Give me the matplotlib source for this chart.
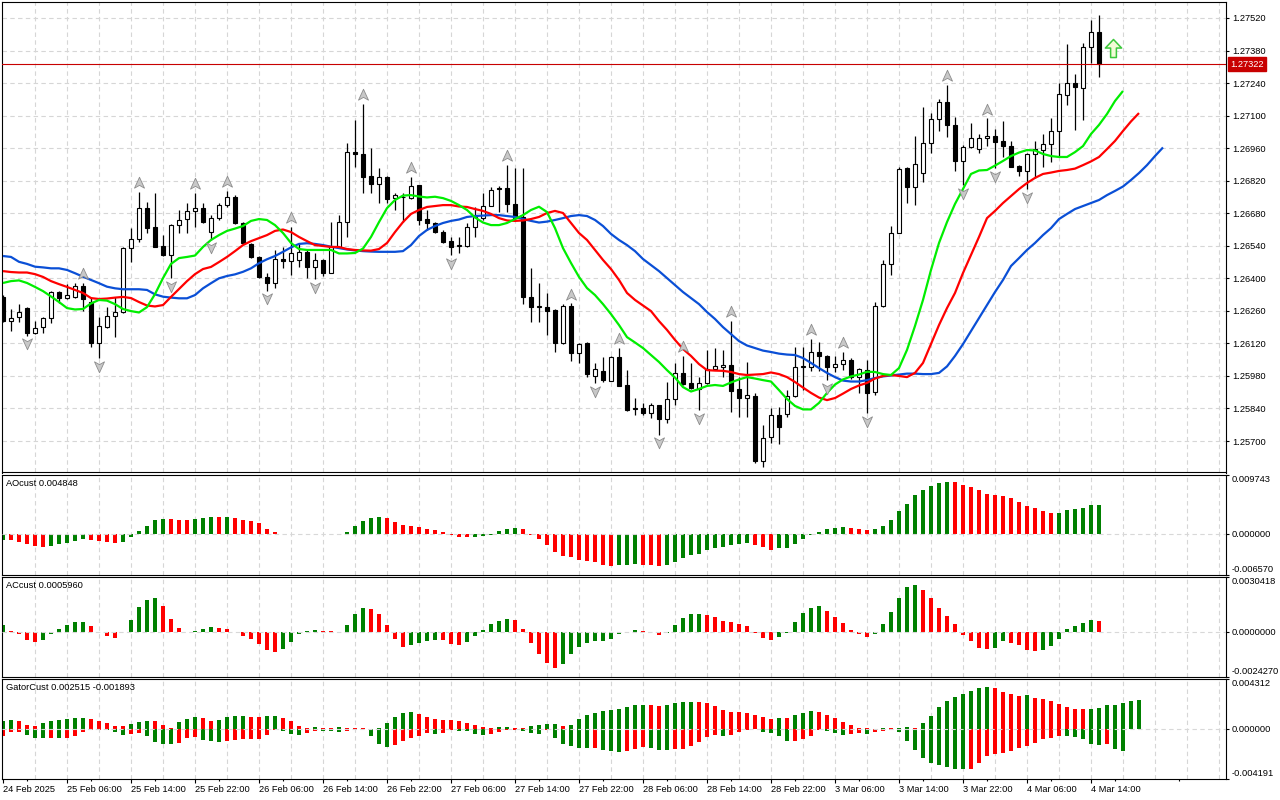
import numpy as np
import matplotlib
matplotlib.use("Agg")
import matplotlib.pyplot as plt
from matplotlib.path import Path
import matplotlib.transforms as mtransforms

plt.rcParams['font.family'] = ['Liberation Sans', 'DejaVu Sans']
FS = 6.7

# ---------------- price data (H1 candles) ----------------
opens = [1.26321, 1.26218, 1.26232, 1.26271, 1.26166, 1.26189, 1.26228, 1.26340, 1.26317, 1.26321,
         1.26367, 1.26299, 1.26123, 1.26192, 1.26238, 1.26254, 1.26529, 1.26568, 1.26701, 1.26619,
         1.26539, 1.26499, 1.26629, 1.26654, 1.26690, 1.26701, 1.26598, 1.26658, 1.26715, 1.26751,
         1.26639, 1.26548, 1.26493, 1.26404, 1.26378, 1.26482, 1.26476, 1.26479, 1.26514, 1.26447,
         1.26479, 1.26424, 1.26536, 1.26643, 1.26945, 1.26935, 1.26840, 1.26804, 1.26837, 1.26744,
         1.26751, 1.26744, 1.26800, 1.26654, 1.26637, 1.26600, 1.26560, 1.26539, 1.26540, 1.26622,
         1.26658, 1.26712, 1.26790, 1.26787, 1.26720, 1.26665, 1.26318, 1.26275, 1.26278, 1.26264,
         1.26120, 1.26281, 1.26077, 1.26120, 1.25980, 1.26002, 1.25959, 1.26060, 1.25941, 1.25836,
         1.25841, 1.25822, 1.25855, 1.25793, 1.25879, 1.25994, 1.25948, 1.25922, 1.25948, 1.26008,
         1.26020, 1.26027, 1.25922, 1.25884, 1.25894, 1.25614, 1.25716, 1.25812, 1.25816, 1.25894,
         1.26017, 1.26020, 1.26082, 1.26066, 1.26020, 1.26031, 1.26049, 1.25977, 1.26005, 1.25910,
         1.26282, 1.26462, 1.26596, 1.26873, 1.26792, 1.26854, 1.26981, 1.27084, 1.27157, 1.27058,
         1.26905, 1.26966, 1.26955, 1.27005, 1.27012, 1.26991, 1.26969, 1.26883, 1.26863, 1.26934,
         1.26952, 1.26977, 1.27034, 1.27189, 1.27239, 1.27217, 1.27396, 1.27458]
highs = [1.26328, 1.26267, 1.26288, 1.26278, 1.26218, 1.26235, 1.26347, 1.26347, 1.26375, 1.26378,
         1.26381, 1.26321, 1.26235, 1.26278, 1.26321, 1.26536, 1.26615, 1.26773, 1.26730, 1.26766,
         1.26586, 1.26632, 1.26694, 1.26723, 1.26768, 1.26723, 1.26672, 1.26723, 1.26775, 1.26758,
         1.26643, 1.26551, 1.26496, 1.26421, 1.26522, 1.26536, 1.26620, 1.26551, 1.26522, 1.26510,
         1.26482, 1.26643, 1.26672, 1.26981, 1.27081, 1.27150, 1.26959, 1.26873, 1.26840, 1.26766,
         1.26766, 1.26835, 1.26803, 1.26694, 1.26643, 1.26608, 1.26579, 1.26579, 1.26637, 1.26708,
         1.26766, 1.26792, 1.26796, 1.26887, 1.26873, 1.26873, 1.26443, 1.26378, 1.26335, 1.26266,
         1.26289, 1.26292, 1.26120, 1.26127, 1.26034, 1.26060, 1.26066, 1.26099, 1.26005, 1.25884,
         1.25865, 1.25862, 1.25857, 1.25955, 1.26034, 1.26066, 1.26037, 1.25977, 1.26092, 1.26099,
         1.26092, 1.26218, 1.25977, 1.26041, 1.25905, 1.25769, 1.25841, 1.25848, 1.25919, 1.26106,
         1.26106, 1.26138, 1.26127, 1.26070, 1.26066, 1.26083, 1.26056, 1.26013, 1.26049, 1.26298,
         1.26479, 1.26625, 1.26880, 1.26880, 1.27012, 1.27138, 1.27110, 1.27171, 1.27232, 1.27095,
         1.26972, 1.27067, 1.27021, 1.27088, 1.27041, 1.27078, 1.26991, 1.26886, 1.26940, 1.26992,
         1.27021, 1.27088, 1.27239, 1.27407, 1.27279, 1.27411, 1.27511, 1.27533]
lows = [1.26212, 1.26175, 1.26213, 1.26152, 1.26159, 1.26163, 1.26206, 1.26295, 1.26310, 1.26314,
        1.26261, 1.26106, 1.26056, 1.26185, 1.26149, 1.26249, 1.26471, 1.26557, 1.26594, 1.26533,
        1.26496, 1.26400, 1.26594, 1.26594, 1.26622, 1.26640, 1.26565, 1.26651, 1.26705, 1.26634,
        1.26548, 1.26486, 1.26401, 1.26347, 1.26358, 1.26443, 1.26414, 1.26447, 1.26403, 1.26396,
        1.26410, 1.26421, 1.26529, 1.26579, 1.26880, 1.26768, 1.26768, 1.26723, 1.26723, 1.26694,
        1.26643, 1.26740, 1.26629, 1.26608, 1.26594, 1.26553, 1.26500, 1.26508, 1.26536, 1.26579,
        1.26651, 1.26711, 1.26684, 1.26687, 1.26651, 1.26289, 1.26213, 1.26213, 1.26156, 1.26084,
        1.26118, 1.26045, 1.26037, 1.25977, 1.25948, 1.25955, 1.25957, 1.25935, 1.25831, 1.25812,
        1.25812, 1.25798, 1.25726, 1.25776, 1.25855, 1.25943, 1.25922, 1.25833, 1.25945, 1.26005,
        1.25977, 1.25826, 1.25805, 1.25805, 1.25604, 1.25587, 1.25690, 1.25687, 1.25802, 1.25888,
        1.25919, 1.26002, 1.26002, 1.25962, 1.25998, 1.26005, 1.25966, 1.25905, 1.25819, 1.25898,
        1.26278, 1.26414, 1.26594, 1.26725, 1.26715, 1.26816, 1.26940, 1.27035, 1.27007, 1.26863,
        1.26801, 1.26962, 1.26940, 1.26969, 1.26873, 1.26923, 1.26878, 1.26840, 1.26783, 1.26830,
        1.26878, 1.26902, 1.26923, 1.27146, 1.27038, 1.27081, 1.27325, 1.27267]
closes = [1.26218, 1.26228, 1.26254, 1.26166, 1.26185, 1.26228, 1.26340, 1.26317, 1.26328, 1.26367,
          1.26311, 1.26123, 1.26195, 1.26238, 1.26254, 1.26529, 1.26568, 1.26701, 1.26618, 1.26536,
          1.26499, 1.26629, 1.26651, 1.26690, 1.26701, 1.26643, 1.26658, 1.26715, 1.26751, 1.26639,
          1.26551, 1.26490, 1.26404, 1.26378, 1.26482, 1.26476, 1.26510, 1.26514, 1.26447, 1.26479,
          1.26424, 1.26536, 1.26643, 1.26945, 1.26935, 1.26837, 1.26804, 1.26835, 1.26740, 1.26758,
          1.26748, 1.26797, 1.26651, 1.26637, 1.26600, 1.26557, 1.26536, 1.26543, 1.26622, 1.26665,
          1.26712, 1.26780, 1.26783, 1.26720, 1.26658, 1.26318, 1.26278, 1.26281, 1.26261, 1.26120,
          1.26281, 1.26077, 1.26116, 1.25987, 1.26008, 1.25962, 1.26060, 1.25937, 1.25833, 1.25841,
          1.25819, 1.25855, 1.25793, 1.25879, 1.25994, 1.25945, 1.25927, 1.25948, 1.26008, 1.26023,
          1.26027, 1.25916, 1.25884, 1.25898, 1.25615, 1.25712, 1.25812, 1.25759, 1.25894, 1.26020,
          1.26023, 1.26082, 1.26067, 1.26020, 1.26031, 1.26049, 1.25977, 1.26008, 1.25905, 1.26281,
          1.26462, 1.26596, 1.26869, 1.26792, 1.26890, 1.26981, 1.27084, 1.27157, 1.27058, 1.26905,
          1.26966, 1.27005, 1.27005, 1.27012, 1.26988, 1.26969, 1.26880, 1.26863, 1.26934, 1.26955,
          1.26977, 1.27034, 1.27192, 1.27239, 1.27222, 1.27396, 1.27458, 1.27322]

# ---------------- Alligator (shifted lines, indexed by bar) ----------------
jaw = [1.26496, 1.26492, 1.26471, 1.26462, 1.26450, 1.26447, 1.26443, 1.26443, 1.26436, 1.26422,
       1.26407, 1.26393, 1.26379, 1.26364, 1.26357, 1.26353, 1.26353, 1.26353, 1.26350, 1.26331,
       1.26321, 1.26317, 1.26314, 1.26314, 1.26328, 1.26357, 1.26379, 1.26400, 1.26410, 1.26417,
       1.26428, 1.26443, 1.26465, 1.26482, 1.26496, 1.26514, 1.26533, 1.26548, 1.26551, 1.26548,
       1.26543, 1.26536, 1.26530, 1.26524, 1.26520, 1.26517, 1.26515, 1.26514, 1.26514, 1.26514,
       1.26517, 1.26543, 1.26582, 1.26608, 1.26625, 1.26638, 1.26647, 1.26653, 1.26664, 1.26668,
       1.26670, 1.26672, 1.26672, 1.26668, 1.26664, 1.26655, 1.26647, 1.26640, 1.26644, 1.26651,
       1.26659, 1.26668, 1.26672, 1.26668, 1.26651, 1.26625, 1.26591, 1.26565, 1.26543, 1.26517,
       1.26483, 1.26457, 1.26431, 1.26401, 1.26371, 1.26341, 1.26315, 1.26289, 1.26255, 1.26225,
       1.26190, 1.26160, 1.26130, 1.26111, 1.26100, 1.26089, 1.26083, 1.26076, 1.26072, 1.26070,
       1.26057, 1.26036, 1.26014, 1.25993, 1.25975, 1.25960, 1.25956, 1.25956, 1.25962, 1.25971,
       1.25978, 1.25982, 1.25986, 1.25990, 1.25990, 1.25988, 1.25988, 1.25993, 1.26021, 1.26066,
       1.26117, 1.26173, 1.26229, 1.26285, 1.26341, 1.26393, 1.26453, 1.26487, 1.26522, 1.26552,
       1.26586, 1.26616, 1.26655, 1.26677, 1.26698, 1.26711, 1.26724, 1.26737, 1.26758, 1.26776,
       1.26795, 1.26823, 1.26853, 1.26887, 1.26926, 1.26963]
teeth = [1.26431, 1.26427, 1.26425, 1.26425, 1.26418, 1.26406, 1.26388, 1.26375, 1.26363, 1.26350,
         1.26337, 1.26315, 1.26311, 1.26313, 1.26317, 1.26320, 1.26315, 1.26298, 1.26283, 1.26279,
         1.26285, 1.26320, 1.26354, 1.26388, 1.26418, 1.26440, 1.26449, 1.26470, 1.26492, 1.26517,
         1.26543, 1.26560, 1.26573, 1.26586, 1.26604, 1.26610, 1.26599, 1.26578, 1.26560, 1.26543,
         1.26539, 1.26535, 1.26535, 1.26526, 1.26522, 1.26520, 1.26519, 1.26526, 1.26552, 1.26599,
         1.26642, 1.26677, 1.26694, 1.26707, 1.26711, 1.26715, 1.26715, 1.26709, 1.26707, 1.26698,
         1.26690, 1.26677, 1.26659, 1.26649, 1.26647, 1.26649, 1.26655, 1.26664, 1.26681, 1.26690,
         1.26681, 1.26638, 1.26595, 1.26565, 1.26522, 1.26479, 1.26440, 1.26393, 1.26337, 1.26307,
         1.26283, 1.26259, 1.26216, 1.26178, 1.26135, 1.26096, 1.26066, 1.26031, 1.26005, 1.26003,
         1.26002, 1.25997, 1.25988, 1.25984, 1.25986, 1.25988, 1.25995, 1.25988, 1.25975, 1.25954,
         1.25930, 1.25907, 1.25887, 1.25876, 1.25885, 1.25904, 1.25924, 1.25939, 1.25950, 1.25969,
         1.25980, 1.25984, 1.25980, 1.25975, 1.25993, 1.26036, 1.26117, 1.26199, 1.26272, 1.26337,
         1.26423, 1.26500, 1.26578, 1.26659, 1.26690, 1.26724, 1.26754, 1.26784, 1.26810, 1.26832,
         1.26849, 1.26855, 1.26862, 1.26866, 1.26872, 1.26887, 1.26903, 1.26922, 1.26956, 1.26991,
         1.27034, 1.27075, 1.27111]
lips = [1.26380, 1.26388, 1.26391, 1.26380, 1.26363, 1.26345, 1.26322, 1.26298, 1.26272, 1.26266,
        1.26268, 1.26292, 1.26307, 1.26304, 1.26289, 1.26268, 1.26259, 1.26253, 1.26276, 1.26332,
        1.26401, 1.26462, 1.26487, 1.26492, 1.26498, 1.26535, 1.26565, 1.26586, 1.26604, 1.26614,
        1.26625, 1.26647, 1.26655, 1.26651, 1.26629, 1.26595, 1.26552, 1.26526, 1.26522, 1.26522,
        1.26522, 1.26522, 1.26507, 1.26507, 1.26509, 1.26528, 1.26578, 1.26642, 1.26702, 1.26737,
        1.26756, 1.26758, 1.26752, 1.26748, 1.26751, 1.26745, 1.26733, 1.26715, 1.26694, 1.26662,
        1.26640, 1.26629, 1.26629, 1.26638, 1.26655, 1.26672, 1.26694, 1.26708, 1.26685, 1.26616,
        1.26530, 1.26466, 1.26406, 1.26358, 1.26328, 1.26289, 1.26246, 1.26199, 1.26147, 1.26124,
        1.26100, 1.26070, 1.26040, 1.26005, 1.25973, 1.25932, 1.25913, 1.25924, 1.25937, 1.25941,
        1.25937, 1.25952, 1.25965, 1.25975, 1.25969, 1.25962, 1.25956, 1.25919, 1.25881, 1.25851,
        1.25836, 1.25836, 1.25864, 1.25907, 1.25943, 1.25965, 1.25978, 1.25986, 1.25998, 1.25997,
        1.25988, 1.25984, 1.26014, 1.26092, 1.26195, 1.26307, 1.26436, 1.26552, 1.26642, 1.26720,
        1.26784, 1.26849, 1.26864, 1.26866, 1.26885, 1.26905, 1.26926, 1.26941, 1.26952, 1.26950,
        1.26935, 1.26926, 1.26922, 1.26922, 1.26943, 1.26969, 1.27021, 1.27060, 1.27107, 1.27163,
        1.27206]

# ---------------- fractals (bar indices) ----------------
fractal_up = [10, 17, 24, 28, 36, 45, 51, 63, 71, 77, 85, 91, 101, 105, 118, 123]
fractal_down = [3, 12, 21, 26, 33, 39, 56, 74, 82, 87, 103, 108, 120, 124, 128]

last_price = 1.27322
signal_bar = 138.75
signal_price = 1.27392

# ---------------- oscillators ----------------
ao = [-0.00094, -0.00100, -0.00128, -0.00166, -0.00194, -0.00216, -0.00194, -0.00166, -0.00139, -0.00111,
      -0.00083, -0.00100, -0.00117, -0.00128, -0.00150, -0.00128, -0.00044, 0.00055, 0.00139, 0.00239,
      0.00250, 0.00244, 0.00239, 0.00233, 0.00250, 0.00272, 0.00283, 0.00277, 0.00285, 0.00261,
      0.00233, 0.00222, 0.00178, 0.00083, 0.00039, 0.00006, 0.00003, 0.00006, 0.00011, 0.00009,
      0.00002, 0.00001, 0.00011, 0.00044, 0.00133, 0.00216, 0.00266, 0.00283, 0.00266, 0.00200,
      0.00150, 0.00133, 0.00117, 0.00083, 0.00067, 0.00033, -0.00011, -0.00044, -0.00047, -0.00039,
      -0.00028, -0.00006, 0.00050, 0.00083, 0.00100, 0.00083, -0.00011, -0.00078, -0.00178, -0.00294,
      -0.00361, -0.00377, -0.00416, -0.00444, -0.00461, -0.00494, -0.00516, -0.00499, -0.00494, -0.00488,
      -0.00494, -0.00499, -0.00511, -0.00494, -0.00461, -0.00394, -0.00344, -0.00316, -0.00261, -0.00228,
      -0.00205, -0.00178, -0.00166, -0.00144, -0.00178, -0.00211, -0.00250, -0.00228, -0.00222, -0.00166,
      -0.00078, -0.00017, 0.00044, 0.00083, 0.00100, 0.00122, 0.00100, 0.00083, 0.00072, 0.00083,
      0.00139, 0.00233, 0.00372, 0.00499, 0.00633, 0.00721, 0.00788, 0.00832, 0.00849, 0.00847,
      0.00799, 0.00766, 0.00716, 0.00660, 0.00633, 0.00621, 0.00588, 0.00533, 0.00466, 0.00422,
      0.00377, 0.00350, 0.00352, 0.00388, 0.00405, 0.00427, 0.00470, 0.004848]
ac = [0.00037, 0.00004, -0.00009, -0.00041, -0.00052, -0.00041, -0.00009, 0.00019, 0.00041, 0.00056,
      0.00058, 0.00032, 0.00001, -0.00019, -0.00032, -0.00002, 0.00069, 0.00136, 0.00173, 0.00186,
      0.00143, 0.00074, 0.00024, 0.00002, 0.00004, 0.00019, 0.00030, 0.00024, 0.00019, 0.00002,
      -0.00022, -0.00037, -0.00065, -0.00099, -0.00108, -0.00093, -0.00052, -0.00013, 0.00006, 0.00011,
      0.00008, 0.00004, 0.00002, 0.00039, 0.00100, 0.00134, 0.00128, 0.00100, 0.00039, -0.00039,
      -0.00082, -0.00073, -0.00061, -0.00048, -0.00043, -0.00045, -0.00067, -0.00068, -0.00052, -0.00022,
      0.00011, 0.00045, 0.00061, 0.00073, 0.00067, 0.00017, -0.00061, -0.00117, -0.00167, -0.00195,
      -0.00173, -0.00117, -0.00084, -0.00061, -0.00050, -0.00048, -0.00039, -0.00011, -0.00006, 0.00011,
      0.00006, 0.00001, -0.00017, -0.00006, 0.00039, 0.00078, 0.00100, 0.00101, 0.00095, 0.00084,
      0.00061, 0.00054, 0.00042, 0.00033, -0.00004, -0.00032, -0.00045, -0.00028, -0.00004, 0.00054,
      0.00104, 0.00132, 0.00143, 0.00117, 0.00082, 0.00048, 0.00009, -0.00013, -0.00028, -0.00009,
      0.00043, 0.00110, 0.00188, 0.00246, 0.00260, 0.00233, 0.00188, 0.00132, 0.00087, 0.00043,
      -0.00017, -0.00050, -0.00086, -0.00095, -0.00086, -0.00050, -0.00061, -0.00073, -0.00100, -0.00102,
      -0.00099, -0.00078, -0.00039, 0.00017, 0.00033, 0.00048, 0.00067, 0.000596]
gator_upper = [0.00072, 0.00080, 0.00069, 0.00040, 0.00031, 0.00052, 0.00072, 0.00080, 0.00089, 0.00094,
               0.00096, 0.00089, 0.00069, 0.00052, 0.00031, 0.00030, 0.00046, 0.00060, 0.00072, 0.00069,
               0.00034, 0.00009, 0.00060, 0.00089, 0.00103, 0.00094, 0.00072, 0.00080, 0.00100, 0.00109,
               0.00112, 0.00106, 0.00103, 0.00110, 0.00112, 0.00097, 0.00066, 0.00031, 0.00011, 0.00017,
               0.00011, 0.00009, 0.00017, 0.00011, 0.00009, 0.00007, 0.00006, 0.00014, 0.00052, 0.00103,
               0.00137, 0.00146, 0.00129, 0.00103, 0.00089, 0.00080, 0.00079, 0.00069, 0.00052, 0.00034,
               0.00017, 0.00009, 0.00017, 0.00019, 0.00009, 0.00007, 0.00026, 0.00034, 0.00043, 0.00044,
               0.00026, 0.00034, 0.00086, 0.00120, 0.00137, 0.00155, 0.00163, 0.00172, 0.00189, 0.00206,
               0.00208, 0.00206, 0.00198, 0.00206, 0.00223, 0.00232, 0.00233, 0.00232, 0.00223, 0.00198,
               0.00163, 0.00146, 0.00143, 0.00137, 0.00120, 0.00103, 0.00086, 0.00094, 0.00093, 0.00120,
               0.00137, 0.00155, 0.00146, 0.00120, 0.00094, 0.00060, 0.00034, 0.00009, 0.00007, 0.00006,
               0.00009, 0.00007, 0.00009, 0.00017, 0.00009, 0.00052, 0.00112, 0.00189, 0.00240, 0.00275,
               0.00301, 0.00326, 0.00352, 0.00361, 0.00352, 0.00318, 0.00301, 0.00283, 0.00292, 0.00266,
               0.00258, 0.00240, 0.00215, 0.00189, 0.00172, 0.00170, 0.00172, 0.00180, 0.00206, 0.00209,
               0.00223, 0.00240, 0.002515]
gator_lower = [-0.00057, -0.00023, -0.00021, -0.00049, -0.00074, -0.00076, -0.00074, -0.00076, -0.00074, -0.00057,
               -0.00023, -0.00005, -0.00004, -0.00006, -0.00023, -0.00049, -0.00040, -0.00031, -0.00057, -0.00109,
               -0.00123, -0.00129, -0.00117, -0.00074, -0.00063, -0.00092, -0.00100, -0.00106, -0.00100, -0.00089,
               -0.00087, -0.00086, -0.00085, -0.00049, -0.00003, -0.00014, -0.00043, -0.00049, -0.00031, -0.00014,
               -0.00015, -0.00016, -0.00020, -0.00019, -0.00003, -0.00002, -0.00057, -0.00129, -0.00152, -0.00135,
               -0.00100, -0.00074, -0.00057, -0.00031, -0.00040, -0.00031, -0.00006, -0.00011, -0.00014, -0.00040,
               -0.00049, -0.00040, -0.00023, -0.00006, -0.00004, -0.00014, -0.00031, -0.00040, -0.00006, -0.00074,
               -0.00126, -0.00143, -0.00160, -0.00161, -0.00159, -0.00178, -0.00186, -0.00195, -0.00186, -0.00169,
               -0.00152, -0.00160, -0.00178, -0.00179, -0.00169, -0.00168, -0.00143, -0.00109, -0.00066, -0.00049,
               -0.00057, -0.00049, -0.00023, -0.00006, -0.00002, -0.00023, -0.00031, -0.00057, -0.00100, -0.00099,
               -0.00083, -0.00057, -0.00006, -0.00014, -0.00031, -0.00049, -0.00040, -0.00031, -0.00040, -0.00023,
               -0.00014, -0.00006, -0.00023, -0.00100, -0.00178, -0.00246, -0.00289, -0.00306, -0.00324, -0.00341,
               -0.00342, -0.00340, -0.00289, -0.00229, -0.00212, -0.00203, -0.00186, -0.00160, -0.00143, -0.00117,
               -0.00083, -0.00074, -0.00057, -0.00058, -0.00066, -0.00083, -0.00126, -0.00135, -0.00129, -0.00169,
               -0.001893]

# ---------------- axes labels ----------------
price_ticks = [1.25700, 1.25840, 1.25980, 1.26120, 1.26260, 1.26400, 1.26540,
               1.26680, 1.26820, 1.26960, 1.27100, 1.27240, 1.27380, 1.27520]
price_range = (1.255646, 1.275888)
ao_range = (-0.006570, 0.009743)
ac_range = (-0.0024270, 0.0030418)
gator_range = (-0.004191, 0.004312)
ao_labels = ['-0.006570', '0.000000', '0.009743']
ac_labels = ['-0.0024270', '0.0000000', '0.0030418']
gator_labels = ['-0.004191', '0.000000', '0.004312']
time_idx = [0, 8, 16, 24, 32, 40, 48, 56, 64, 72, 80, 88, 96, 104, 112, 120, 128, 136]
time_labels = ['24 Feb 2025', '25 Feb 06:00', '25 Feb 14:00', '25 Feb 22:00', '26 Feb 06:00',
               '26 Feb 14:00', '26 Feb 22:00', '27 Feb 06:00', '27 Feb 14:00', '27 Feb 22:00',
               '28 Feb 06:00', '28 Feb 14:00', '28 Feb 22:00', '3 Mar 06:00', '3 Mar 14:00',
               '3 Mar 22:00', '4 Mar 06:00', '4 Mar 14:00']
minor_time_idx = [3, 11, 19, 27, 35, 43, 51, 59, 67, 75, 83, 91, 99, 107, 115, 123, 131, 139, 147]

# ---------------- styling ----------------
GREEN = '#008000'
RED = '#ff0000'
GRID = '#d6d6d6'
DASH = (0, (4, 3))
W, H = 1280, 800
XMIN, XMAX = -0.125, 152.875

fig = plt.figure(figsize=(W / 100, H / 100), dpi=100, facecolor='white')


def panel(top, bottom):
    return fig.add_axes([2 / W, 1 - bottom / H, 1224 / W, (bottom - top) / H])


ax = panel(2, 472.5)
ax_ao = panel(474.5, 574.5)
ax_ac = panel(576.5, 676.5)
ax_gt = panel(678.5, 778.5)

grid_idx = np.arange(4, 153, 4)
for a in (ax, ax_ao, ax_ac, ax_gt):
    a.set_xlim(XMIN, XMAX)
    a.set_facecolor('white')
    for s in a.spines.values():
        s.set_color('black')
        s.set_linewidth(0.8)
    for gx in grid_idx:
        a.axvline(gx, color=GRID, lw=0.8, ls=DASH, zorder=0)
    a.yaxis.tick_right()
    a.tick_params(axis='y', which='both', direction='out', length=2.5, width=0.8,
                  pad=2.2, labelsize=FS, colors='black', left=False)
    a.tick_params(axis='x', which='both', bottom=False, top=False, labelbottom=False)

# ---- main price panel ----
ax.set_ylim(*price_range)
for p in price_ticks:
    ax.axhline(p, color=GRID, lw=0.8, ls=DASH, zorder=0)
ax.set_yticks(price_ticks)
ax.set_yticklabels(['%.5f' % p for p in price_ticks])

o = np.array(opens)
c = np.array(closes)
hi = np.array(highs)
lo = np.array(lows)
idx = np.arange(len(o))
bull = c >= o
ax.vlines(idx, lo, hi, color='black', linewidth=0.9, zorder=2)
body_lo = np.minimum(o, c)
body_h = np.maximum(np.abs(c - o), 0.000012)
ax.bar(idx, body_h, bottom=body_lo, width=0.55,
       color=np.where(bull, 'white', 'black'), edgecolor='black', linewidth=0.8, zorder=3)

ax.plot(np.arange(len(jaw)), jaw, color='#0a4fd6', lw=1.6, zorder=4, solid_capstyle='butt')
ax.plot(np.arange(len(teeth)), teeth, color='#ff0000', lw=1.6, zorder=4, solid_capstyle='butt')
ax.plot(np.arange(len(lips)), lips, color='#00ee00', lw=1.6, zorder=4, solid_capstyle='butt')

up_path = Path([(0, 1), (0.8, -0.75), (0, -0.3), (-0.8, -0.75), (0, 1)],
               [Path.MOVETO, Path.LINETO, Path.LINETO, Path.LINETO, Path.CLOSEPOLY])
dn_path = Path([(0, -1), (0.8, 0.75), (0, 0.3), (-0.8, 0.75), (0, -1)],
               [Path.MOVETO, Path.LINETO, Path.LINETO, Path.LINETO, Path.CLOSEPOLY])
fu = np.array(fractal_up)
fd = np.array(fractal_down)
ax.plot(fu, hi[fu] + 0.00038, ls='none', marker=up_path, ms=9, mfc='#c8c8c8',
        mec='#8c8c8c', mew=0.6, zorder=5)
ax.plot(fd, lo[fd] - 0.00032, ls='none', marker=dn_path, ms=9, mfc='#c8c8c8',
        mec='#8c8c8c', mew=0.6, zorder=5)

arrow_path = Path([(-0.32, -1), (0.32, -1), (0.32, 0.05), (0.9, 0.05), (0, 1),
                   (-0.9, 0.05), (-0.32, 0.05), (-0.32, -1)],
                  [Path.MOVETO] + [Path.LINETO] * 6 + [Path.CLOSEPOLY])
ax.plot([signal_bar], [signal_price], ls='none', marker=arrow_path, ms=13,
        mfc='#f2fbd6', mec='#3cc83c', mew=1.1, zorder=6)

ax.axhline(last_price, color='#c80000', lw=0.8, zorder=4)
tr_main = mtransforms.blended_transform_factory(ax.transAxes, ax.transData)
ax.text(1 + 4.5 / 1224, last_price, '%.5f' % last_price, transform=tr_main, ha='left',
        va='center', fontsize=FS, color='white', zorder=10, clip_on=False,
        bbox=dict(boxstyle='square,pad=0.25', fc='#c80000', ec='#c80000'))


# ---- oscillator panels ----
def hist_colors(vals, first):
    cols = []
    for i, v in enumerate(vals):
        if i == 0:
            cols.append(first)
        elif v > vals[i - 1]:
            cols.append(GREEN)
        elif v < vals[i - 1]:
            cols.append(RED)
        else:
            cols.append(cols[-1])
    return cols


def side_labels(a, rng, texts):
    vals = [rng[0], 0.0, rng[1]]
    a.set_ylim(*rng)
    a.set_yticks(vals)
    a.tick_params(axis='y', labelright=False)
    tr = mtransforms.blended_transform_factory(a.transAxes, a.transData)
    for v, t, va in zip(vals, texts, ['bottom', 'center', 'top']):
        a.text(1 + 6 / 1224, v, t, transform=tr, ha='left', va=va, fontsize=FS,
               clip_on=False)
    a.axhline(0, color='#d8d8d8', lw=0.8, ls=DASH, zorder=3)


def panel_title(a, text):
    a.annotate(text, xy=(0, 1), xycoords='axes fraction', xytext=(3, -3.6),
               textcoords='offset points', ha='left', va='top', fontsize=FS, zorder=10)


ao_arr = np.array(ao)
ax_ao.bar(np.arange(len(ao_arr)), ao_arr, width=0.52, color=hist_colors(ao, GREEN),
          linewidth=0, zorder=2)
side_labels(ax_ao, ao_range, ao_labels)
panel_title(ax_ao, 'AOcust %.6f' % ao[-1])

ac_arr = np.array(ac)
ax_ac.bar(np.arange(len(ac_arr)), ac_arr, width=0.52, color=hist_colors(ac, GREEN),
          linewidth=0, zorder=2)
side_labels(ax_ac, ac_range, ac_labels)
panel_title(ax_ac, 'ACcust %.7f' % ac[-1])

gu = np.array(gator_upper)
gl = np.array(gator_lower)
ax_gt.bar(np.arange(len(gu)), gu, width=0.52, color=hist_colors(gator_upper, GREEN),
          linewidth=0, zorder=2)
ax_gt.bar(np.arange(len(gl)), gl, width=0.52,
          color=hist_colors(list(np.abs(gl)), RED), linewidth=0, zorder=2)
side_labels(ax_gt, gator_range, gator_labels)
panel_title(ax_gt, 'GatorCust %.6f %.6f' % (gator_upper[-1], gator_lower[-1]))

ax_gt.set_xticks(time_idx)
ax_gt.set_xticklabels(time_labels, fontsize=FS, ha='left')
ax_gt.set_xticks(minor_time_idx, minor=True)
ax_gt.tick_params(axis='x', which='major', bottom=True, labelbottom=True, direction='out',
                  length=3, width=0.8, pad=1.5, labelsize=FS)
ax_gt.tick_params(axis='x', which='minor', bottom=True, direction='out', length=1.5, width=0.8)
ax_gt.set_xlim(XMIN, XMAX)

fig.savefig('out.png', dpi=100, facecolor='white')
